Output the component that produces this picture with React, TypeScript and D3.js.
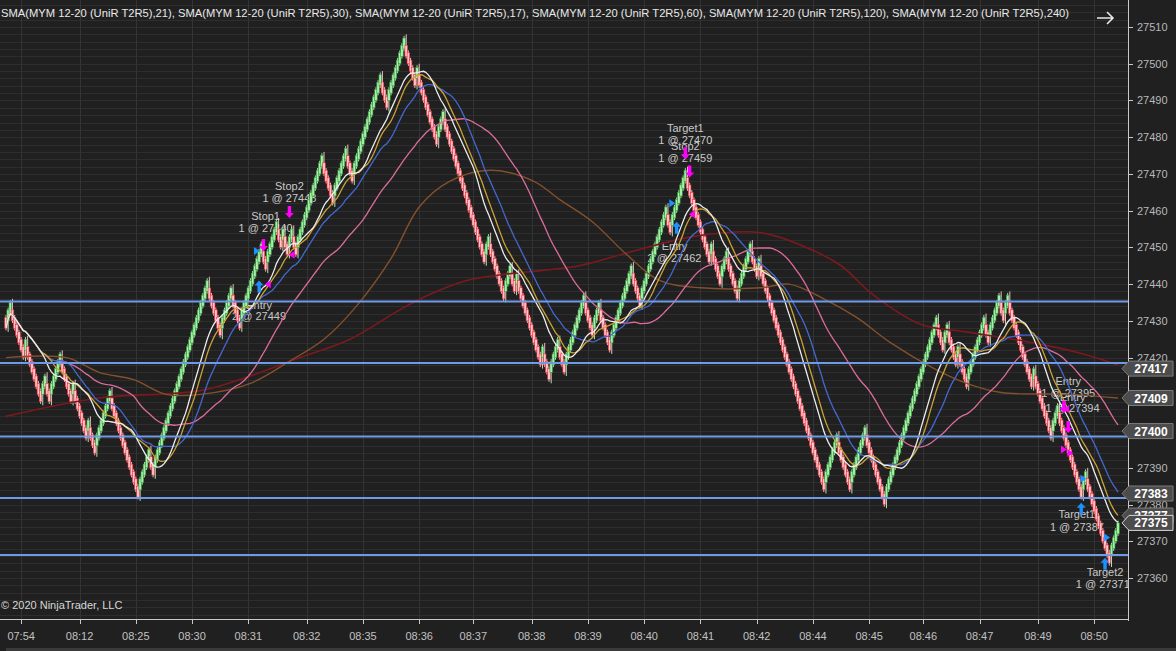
import React from 'react';
import * as d3 from 'd3';

// ---------------- DATA ----------------
const START_PRICE = 27430;
const TREND_TICKS = 2;
const REVERSAL_TICKS = 5;
const OPEN_OFFSET = 3;
// UniRenko bricks: signed number of consecutive up / down bricks
const brickRuns = [-1, 2, -6, 1, -7, 2, -2, 5, -5, 1, -6, 1, -3, 7, -13, 5, -2, 25,
  -6, 5, -4, 10, -2, 5, -2, 1, -2, 2, -2, 12, -5, 6, -3, 13, -3, 8,
  -5, 1, -9, 3, -19, 2, -7, 3, -2, 1, -11, 1, -3, 4, -3, 9,
  -4, 3, -5, 10, -4, 12, -2, 7,
  -11, 1, -4, 3, -5, 6, -3, 1, -30, 6, -6, 7, -9, 24,
  -3, 2, -4, 1, -4, 8, -2, 5, -2, 2, -11, 1, -8, 3, -11, 2, -11, 4];

const smaPeriodsComputed = [17, 21, 30, 60];
const smaColorsComputed = ['#ececec', '#caa234', '#4468d0', '#dc6c9c'];

// SMA(120) and SMA(240) (bar index, value)
const sma120Bars = [0, 28, 43, 59, 74, 90, 113, 131, 147, 162, 178, 191, 205, 224, 244, 256, 271, 287, 302, 321, 349, 362, 378, 393, 409, 429, 444, 460, 491, 514];
const sma120Vals = [27420, 27420, 27416, 27414, 27410, 27410, 27413, 27419, 27425, 27434, 27447, 27461, 27468, 27471, 27468, 27463, 27457, 27448, 27441, 27439, 27439, 27440, 27436, 27431, 27424, 27417, 27413, 27410.5, 27410, 27409];
const sma240Bars = [0, 43, 90, 113, 136, 159, 182, 197, 213, 228, 265, 287, 318, 349, 370, 386, 401, 423, 444, 475, 498, 514];
const sma240Vals = [27404, 27409, 27411, 27415, 27420, 27425, 27433, 27437.5, 27441, 27442.5, 27445, 27448.5, 27453, 27454, 27450, 27445, 27437, 27429, 27427, 27424, 27421, 27418];

const horizontalLines = [27435.25, 27418.5, 27398.5, 27381.75, 27366.25];

const priceTicks = [27360, 27370, 27380, 27390, 27400, 27410, 27420, 27430, 27440, 27450, 27460, 27470, 27480, 27490, 27500, 27510];
const timeLabels = ['07:54', '08:12', '08:25', '08:30', '08:31', '08:32', '08:35', '08:36', '08:37', '08:38', '08:39', '08:40', '08:41', '08:42', '08:44', '08:45', '08:46', '08:47', '08:49', '08:50'];
const timeTickBars = [7, 34, 60, 86, 112, 139, 165, 191, 216, 243, 269, 295, 321, 347, 373, 399, 424, 450, 477, 503];

const axisMarkerValues = [27417, 27409, 27400, 27383, 27377, 27375];

// executions: [bar, price]
const buyArrows = [[117, 27441], [310, 27457], [497, 27380.5], [508, 27365.5]];
const sellArrows = [[119, 27449], [131, 27458], [314, 27474], [316, 27469], [489, 27405], [491, 27399.5]];
const buyMarks = [[116, 27449], [308, 27462], [498, 27387], [509, 27371]];
const sellMarksLeft = [[121, 27440], [132, 27448], [317, 27459], [490, 27406]];
const sellMarksRight = [[489, 27395], [492, 27394]];

const noteBars = [117, 117, 120, 120, 131, 131, 314, 314, 314, 314, 309, 309, 491, 491, 493, 493, 495, 495, 508, 507];
const notePrices = [27434.3, 27431.3, 27458.5, 27455.3, 27466.7, 27463.4, 27482.5, 27479.2, 27477.6, 27474.3, 27450.4, 27447.1, 27413.6, 27410.4, 27409.3, 27406.3, 27377.4, 27374, 27361.6, 27358.4];
const noteTexts = ['Entry', '2 @ 27449', 'Stop1', '1 @ 27440', 'Stop2', '1 @ 27448', 'Target1', '1 @ 27470', 'Stop2', '1 @ 27459', 'Entry', '2 @ 27462', 'Entry', '1 @ 27395', 'Entry', '1 @ 27394', 'Target1', '1 @ 27387', 'Target2', '1 @ 27371'];

const legendText = 'SMA(MYM 12-20 (UniR T2R5),21), SMA(MYM 12-20 (UniR T2R5),30), SMA(MYM 12-20 (UniR T2R5),17), SMA(MYM 12-20 (UniR T2R5),60), SMA(MYM 12-20 (UniR T2R5),120), SMA(MYM 12-20 (UniR T2R5),240)';

// ---------------- BUILD ----------------
type Bar = { i: number; open: number; close: number; high: number; low: number; up: boolean };

function buildBars(): Bar[] {
  const bars: Bar[] = [];
  let prev = START_PRICE;
  brickRuns.forEach((run, r) => {
    const dir = Math.sign(run);
    for (let j = 0; j < Math.abs(run); j++) {
      const reversal = r > 0 && j === 0;
      const close = prev + dir * (reversal ? REVERSAL_TICKS : TREND_TICKS);
      const open = close - dir * OPEN_OFFSET;
      let high = Math.max(open, close) + 0.6;
      let low = Math.min(open, close) - 0.6;
      if (reversal && dir < 0) high = Math.max(high, prev + 1);
      if (reversal && dir > 0) low = Math.min(low, prev - 1);
      bars.push({ i: bars.length, open, close, high, low, up: dir > 0 });
      prev = close;
    }
  });
  return bars;
}

const bars = buildBars();
const closes = bars.map((b) => b.close);
const N = bars.length;

function sma(period: number) {
  return closes.map((_, i) => {
    const s = Math.max(0, i - period + 1);
    return { i, v: d3.mean(closes.slice(s, i + 1)) as number };
  });
}

const W = 1176;
const H = 651;
const PLOT_R = 1128;
const PLOT_B = 619;

const x = d3.scaleLinear().domain([0, N - 1]).range([6, 1118]);
const y = d3.scaleLinear().domain([27360, 27510]).range([578, 27]);

const FONT = '"Liberation Sans", Arial, Helvetica, sans-serif';

export default function App() {
  const gridPrices = d3.range(27300, 27560, 2);
  const lineGen = d3
    .line<{ i: number; v: number }>()
    .x((d) => x(d.i))
    .y((d) => y(d.v));
  const smoothGen = d3
    .line<{ i: number; v: number }>()
    .x((d) => x(d.i))
    .y((d) => y(d.v))
    .curve(d3.curveCatmullRom.alpha(0.5));

  const computed = smaPeriodsComputed.map((p) => sma(p));
  const s120 = sma120Bars.map((b, k) => ({ i: b, v: sma120Vals[k] }));
  const s240 = sma240Bars.map((b, k) => ({ i: b, v: sma240Vals[k] }));

  // tick labels fully hidden behind a value marker box are not drawn (as in the original)
  const visibleTicks = priceTicks.filter((p) => axisMarkerValues.every((v) => Math.abs(y(p) - y(v)) > 7));

  const upArrow = (cx: number, ty: number) =>
    `M${cx},${ty} L${cx + 4.5},${ty + 5} L${cx + 1.7},${ty + 5} L${cx + 1.7},${ty + 12} L${cx - 1.7},${ty + 12} L${cx - 1.7},${ty + 5} L${cx - 4.5},${ty + 5} Z`;
  const downArrow = (cx: number, ty: number) =>
    `M${cx},${ty} L${cx + 4.5},${ty - 5} L${cx + 1.7},${ty - 5} L${cx + 1.7},${ty - 12} L${cx - 1.7},${ty - 12} L${cx - 1.7},${ty - 5} L${cx - 4.5},${ty - 5} Z`;
  const triRight = (cx: number, cy: number) => `M${cx - 3},${cy - 4} L${cx + 3},${cy} L${cx - 3},${cy + 4} Z`;
  const triLeft = (cx: number, cy: number) => `M${cx + 3},${cy - 4} L${cx - 3},${cy} L${cx + 3},${cy + 4} Z`;

  return (
    <svg width={W} height={H} style={{ position: 'absolute', left: 0, top: 0, display: 'block' }} fontFamily={FONT}>
      <defs>
        <clipPath id="plot">
          <rect x={0} y={0} width={PLOT_R} height={PLOT_B} />
        </clipPath>
      </defs>
      <rect x={0} y={0} width={W} height={H} fill="#202020" />

      {/* grid */}
      <g clipPath="url(#plot)">
        {gridPrices.map((p) => (
          <line key={'g' + p} x1={0} x2={PLOT_R} y1={Math.round(y(p)) + 0.5} y2={Math.round(y(p)) + 0.5} stroke="#2e2e2e" strokeWidth={1} />
        ))}
        {timeTickBars.map((b) => (
          <line key={'v' + b} x1={Math.round(x(b)) + 0.5} x2={Math.round(x(b)) + 0.5} y1={0} y2={PLOT_B} stroke="#343434" strokeWidth={1} />
        ))}
      </g>

      <text x={1} y={13} fontSize={11.2} fill="#e8e8e8" dominantBaseline="central">
        {legendText}
      </text>

      <g clipPath="url(#plot)">
        {/* trade notes (behind bars) */}
        {noteTexts.map((t, k) => (
          <text key={'n' + k} x={x(noteBars[k])} y={y(notePrices[k])} fontSize={11} fill="#c8c8c8" textAnchor="middle" dominantBaseline="central">
            {t}
          </text>
        ))}

        {/* bars */}
        {bars.map((b) => {
          const cx = x(b.i);
          const top = y(Math.max(b.open, b.close));
          const bot = y(Math.min(b.open, b.close));
          return (
            <g key={'b' + b.i}>
              <line x1={cx} x2={cx} y1={y(b.high)} y2={y(b.low)} stroke={b.up ? '#c4f0c4' : '#f4d0d0'} strokeWidth={0.9} />
              <rect
                x={cx - 1.3}
                y={top}
                width={2.6}
                height={Math.max(1, bot - top)}
                fill={b.up ? '#a6f0a6' : '#ffc6cc'}
                stroke={b.up ? '#2f9a3c' : '#ff2a38'}
                strokeWidth={0.6}
              />
            </g>
          );
        })}

        {/* SMAs */}
        <path d={smoothGen(s240) || ''} fill="none" stroke="#7a1a1e" strokeWidth={1.6} />
        <path d={smoothGen(s120) || ''} fill="none" stroke="#84502c" strokeWidth={1.4} />
        {computed
          .map((series, k) => ({ series, k }))
          .reverse()
          .map(({ series, k }) => (
            <path key={'s' + k} d={lineGen(series) || ''} fill="none" stroke={smaColorsComputed[k]} strokeWidth={1.3} />
          ))}

        {/* horizontal lines */}
        {horizontalLines.map((p) => (
          <line key={'h' + p} x1={0} x2={PLOT_R} y1={y(p)} y2={y(p)} stroke="#6f9ae8" strokeWidth={2} />
        ))}

        {/* executions */}
        {buyArrows.map(([b, p], k) => (
          <path key={'ba' + k} d={upArrow(x(b), y(p))} fill="#1e90ff" />
        ))}
        {sellArrows.map(([b, p], k) => (
          <path key={'sa' + k} d={downArrow(x(b), y(p))} fill="#ff00ff" />
        ))}
        {buyMarks.map(([b, p], k) => (
          <path key={'bm' + k} d={triRight(x(b), y(p))} fill="#1e90ff" />
        ))}
        {sellMarksLeft.map(([b, p], k) => (
          <path key={'sl' + k} d={triLeft(x(b), y(p))} fill="#ff00ff" />
        ))}
        {sellMarksRight.map(([b, p], k) => (
          <path key={'sr' + k} d={triRight(x(b), y(p))} fill="#ff00ff" />
        ))}
      </g>

      {/* price axis */}
      <line x1={PLOT_R + 0.5} x2={PLOT_R + 0.5} y1={0} y2={PLOT_B + 2} stroke="#c8c8c8" strokeWidth={1} />
      {priceTicks.map((p) => (
        <line key={'ptl' + p} x1={PLOT_R} x2={PLOT_R + 5} y1={Math.round(y(p)) + 0.5} y2={Math.round(y(p)) + 0.5} stroke="#c8c8c8" />
      ))}
      {visibleTicks.map((p) => (
        <text key={'pt' + p} x={PLOT_R + 9} y={y(p)} fontSize={11} fill="#b8b8b8" dominantBaseline="central">
          {p}
        </text>
      ))}
      {axisMarkerValues.map((v, k) => {
        const cy = y(v);
        const last = k === axisMarkerValues.length - 1;
        return (
          <g key={'am' + k}>
            <path
              d={`M1122,${cy} L1129,${cy - 7.5} L1173,${cy - 7.5} L1173,${cy + 7.5} L1129,${cy + 7.5} Z`}
              fill="#4c4c4c"
              stroke={last ? '#d8d8d8' : '#7c7c7c'}
              strokeWidth={1}
            />
            <text x={1151} y={cy + 0.5} fontSize={12} fontWeight="bold" fill="#ffffff" textAnchor="middle" dominantBaseline="central">
              {v}
            </text>
          </g>
        );
      })}

      {/* time axis */}
      <line x1={0} x2={PLOT_R + 1} y1={PLOT_B + 0.5} y2={PLOT_B + 0.5} stroke="#c8c8c8" strokeWidth={1} />
      {timeTickBars.map((b, k) => (
        <g key={'tt' + k}>
          <line x1={Math.round(x(b)) + 0.5} x2={Math.round(x(b)) + 0.5} y1={PLOT_B} y2={PLOT_B + 5} stroke="#c8c8c8" />
          <text x={x(b)} y={636} fontSize={11} fill="#c0c0c0" textAnchor="middle" dominantBaseline="central">
            {timeLabels[k]}
          </text>
        </g>
      ))}
      <rect x={6} y={648} width={W - 6} height={3} fill="#3a3a3a" />

      <text x={1} y={605} fontSize={11} fill="#d8d8d8" dominantBaseline="central">
        © 2020 NinjaTrader, LLC
      </text>

      {/* top-right arrow */}
      <path d="M1097,18 L1113,18 M1107,12 L1113,18 L1107,24" fill="none" stroke="#e8e8e8" strokeWidth={1.6} />
    </svg>
  );
}
